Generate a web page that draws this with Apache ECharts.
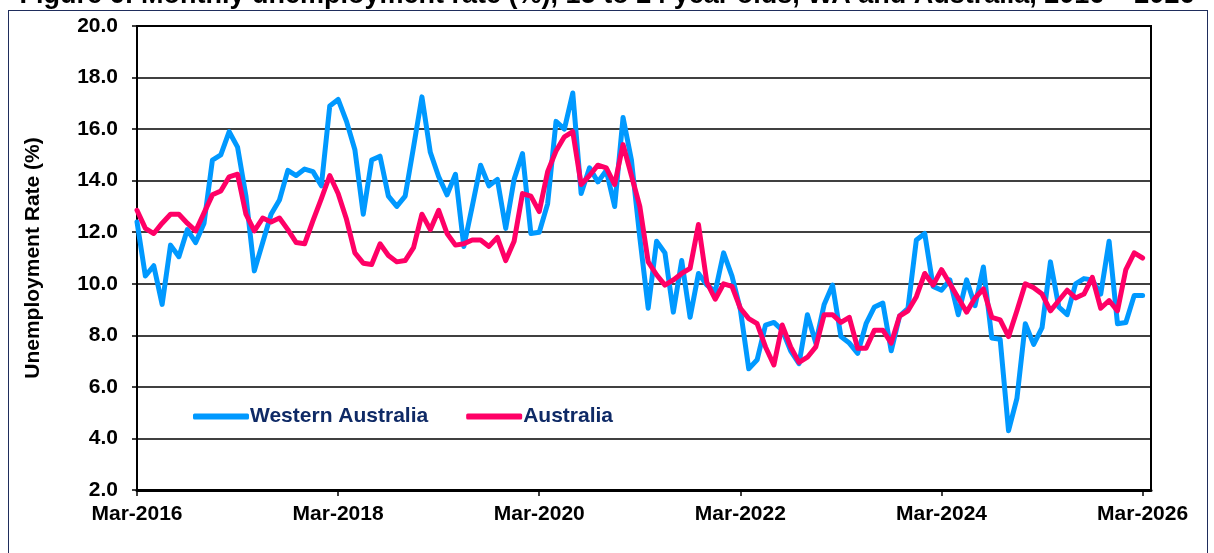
<!DOCTYPE html>
<html>
<head>
<meta charset="utf-8">
<script src="https://cdn.jsdelivr.net/npm/echarts@6/dist/echarts.min.js"></script>
<style>
  html, body { margin: 0; padding: 0; background: #fff; }
  #frame {
    position: absolute; left: 8px; top: 10px; width: 1200px; height: 560px;
    border: 1.5px solid #1f2d5c; box-sizing: border-box;
  }
  #chart { position: absolute; left: 0; top: 0; width: 1214px; height: 553px; }
</style>
</head>
<body>
<div id="frame"></div>
<div id="chart"></div>
<script>
// monthly categories, Mar-2016 .. Apr-2026 (axis runs one month past the last value)
var monthNames = ["Jan", "Feb", "Mar", "Apr", "May", "Jun", "Jul", "Aug", "Sep", "Oct", "Nov", "Dec"];
var months = [];
for (var k = 0; k <= 121; k++) {
  var m = (2 + k) % 12;
  var y = 2016 + Math.floor((2 + k) / 12);
  months.push(monthNames[m] + "-" + y);
}

var yTicks = [2, 4, 6, 8, 10, 12, 14, 16, 18, 20];

var waRate = [
  12.4, 10.3, 10.7, 9.2, 11.5, 11.05, 12.1, 11.6, 12.35, 14.8, 15.0, 15.9,
  15.3, 13.4, 10.5, 11.6, 12.7, 13.25, 14.4, 14.2, 14.45, 14.35, 13.8, 16.9,
  17.15, 16.3, 15.2, 12.7, 14.8, 14.95, 13.4, 13.0, 13.4, 15.3, 17.25, 15.1,
  14.15, 13.45, 14.25, 11.45, 13.0, 14.6, 13.8, 14.05, 12.15, 14.05, 15.05, 11.95,
  12.0, 13.1, 16.3, 16.0, 17.4, 13.5, 14.5, 13.95, 14.4, 13.0, 16.45, 14.8,
  11.8, 9.05, 11.65, 11.2, 8.9, 10.9, 8.7, 10.4, 9.95, 9.7, 11.2, 10.3,
  9.0, 6.7, 7.05, 8.4, 8.5, 8.2, 7.4, 6.9, 8.8, 7.7, 9.2, 9.95,
  7.95, 7.7, 7.3, 8.45, 9.1, 9.25, 7.4, 8.75, 9.05, 11.7, 11.95, 9.9,
  9.75, 10.15, 8.8, 10.15, 9.15, 10.65, 7.9, 7.85, 4.3, 5.55, 8.45, 7.65,
  8.3, 10.85, 9.1, 8.8, 10.0, 10.2, 10.15, 9.6, 11.65, 8.45, 8.5, 9.55,
  9.55
];

var ausRate = [
  12.85, 12.15, 11.95, 12.35, 12.7, 12.7, 12.35, 12.05, 12.75, 13.45, 13.6, 14.15,
  14.25, 12.7, 12.05, 12.55, 12.4, 12.55, 12.1, 11.6, 11.55, 12.45, 13.3, 14.2,
  13.5, 12.5, 11.2, 10.8, 10.75, 11.55, 11.1, 10.85, 10.9, 11.4, 12.7, 12.1,
  12.85, 11.95, 11.5, 11.55, 11.7, 11.7, 11.45, 11.8, 10.9, 11.65, 13.5, 13.4,
  12.8, 14.35, 15.15, 15.7, 15.9, 13.85, 14.2, 14.6, 14.5, 13.85, 15.4, 14.2,
  13.0, 10.85, 10.35, 9.95, 10.15, 10.4, 10.6, 12.3, 10.05, 9.4, 10.0, 9.9,
  9.05, 8.65, 8.45, 7.55, 6.85, 8.4, 7.55, 6.95, 7.15, 7.55, 8.8, 8.8,
  8.5, 8.7, 7.5, 7.5, 8.2, 8.2, 7.7, 8.75, 8.95, 9.5, 10.4, 9.95,
  10.55, 10.0, 9.45, 8.9, 9.45, 9.8, 8.7, 8.6, 7.95, 8.95, 10.0, 9.85,
  9.6, 8.95, 9.35, 9.75, 9.45, 9.6, 10.25, 9.05, 9.35, 8.95, 10.55, 11.2,
  11.0
];

var chart = echarts.init(document.getElementById("chart"));
var font = "Liberation Sans, Arial, sans-serif";

var option = {
  animation: false,
  title: {
    text: "Figure 6: Monthly unemployment rate (%), 15 to 24 year olds, WA and Australia, 2016 \u2013 2026",
    left: "center",
    top: -23,
    textStyle: { fontFamily: font, fontSize: 27, fontWeight: "bold", color: "#000" }
  },
  grid: {
    left: 137, right: 63, top: 26, bottom: 63,
    show: true, borderColor: "#000", borderWidth: 2
  },
  legend: {
    left: 188, top: 401,
    itemWidth: 56, itemHeight: 6, itemGap: 38,
    icon: "roundRect",
    textStyle: { fontFamily: font, fontSize: 21, fontWeight: "bold", color: "#0f2a66", padding: [0, 0, 0, -4] },
    data: ["Western Australia", "Australia"]
  },
  xAxis: {
    type: "category",
    boundaryGap: false,
    data: months,
    axisLine: { lineStyle: { color: "#000", width: 3 } },
    axisTick: { interval: function (i) { return i % 24 === 0; }, length: 6, lineStyle: { color: "#000", width: 1.5 } },
    axisLabel: {
      interval: function (i) { return i % 24 === 0; },
      margin: 14,
      fontFamily: font, fontSize: 21, fontWeight: "bold", color: "#000"
    },
    splitLine: { show: false }
  },
  yAxis: {
    type: "value",
    min: yTicks[0], max: yTicks[yTicks.length - 1], interval: 2,
    name: "Unemployment Rate (%)",
    nameLocation: "middle",
    nameGap: 93,
    nameTextStyle: { fontFamily: font, fontSize: 21, fontWeight: "bold", color: "#000" },
    axisLine: { show: true, lineStyle: { color: "#000", width: 2 } },
    axisTick: { show: true, length: 5, lineStyle: { color: "#000", width: 1.5 } },
    axisLabel: {
      margin: 19,
      formatter: function (v) { return v.toFixed(1); },
      fontFamily: font, fontSize: 21, fontWeight: "bold", color: "#000"
    },
    splitLine: { lineStyle: { color: "#000", width: 1.5 } }
  },
  series: [
    {
      name: "Western Australia",
      type: "line",
      data: waRate,
      symbol: "none",
      color: "#0099ff",
      lineStyle: { width: 5, color: "#0099ff", cap: "round", join: "round" }
    },
    {
      name: "Australia",
      type: "line",
      data: ausRate,
      symbol: "none",
      color: "#ff0066",
      lineStyle: { width: 5, color: "#ff0066", cap: "round", join: "round" }
    }
  ]
};
chart.setOption(option);
</script>
</body>
</html>
